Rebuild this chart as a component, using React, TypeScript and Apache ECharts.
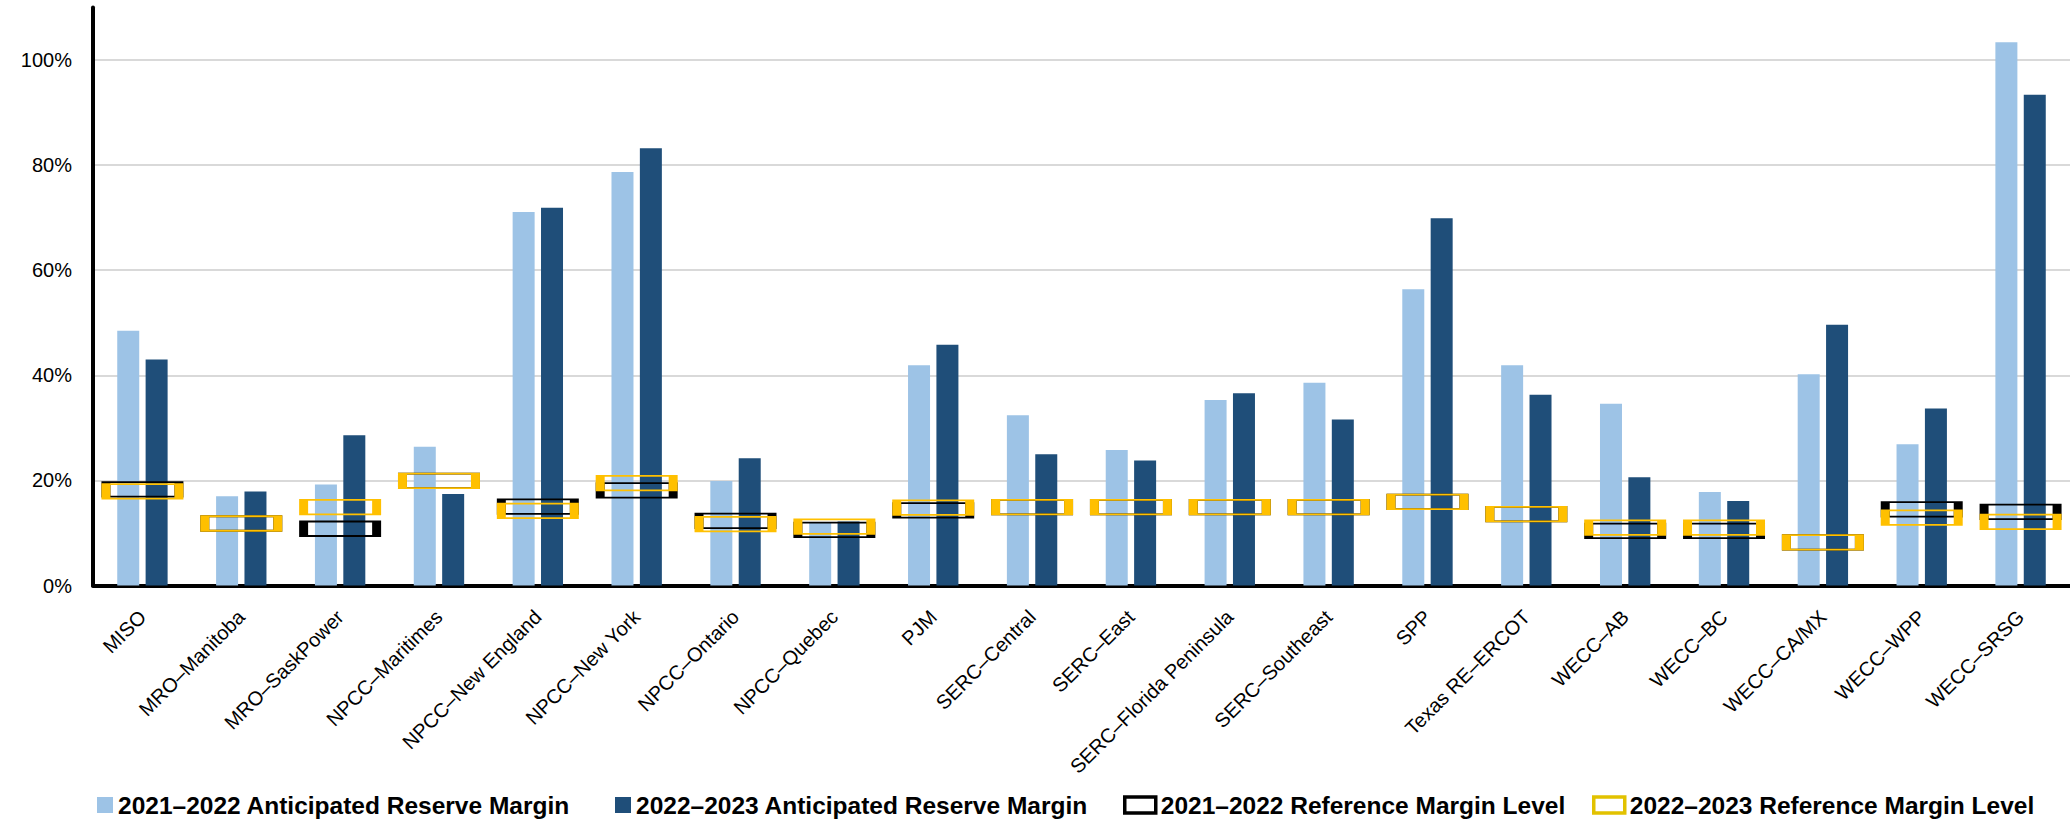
import React, { useEffect, useRef } from "react";
import * as echarts from "echarts";

const categories = [
  "MISO",
  "MRO–Manitoba",
  "MRO–SaskPower",
  "NPCC–Maritimes",
  "NPCC–New England",
  "NPCC–New York",
  "NPCC–Ontario",
  "NPCC–Quebec",
  "PJM",
  "SERC–Central",
  "SERC–East",
  "SERC–Florida Peninsula",
  "SERC–Southeast",
  "SPP",
  "Texas RE–ERCOT",
  "WECC–AB",
  "WECC–BC",
  "WECC–CA/MX",
  "WECC–WPP",
  "WECC–SRSG",
];

const arm2021 = [48.5, 17.0, 19.2, 26.4, 71.1, 78.7, 19.9, 12.0, 41.9, 32.4, 25.8, 35.3, 38.6, 56.4, 41.9, 34.6, 17.8, 40.2, 26.9, 103.4];
const arm2022 = [43.0, 17.9, 28.6, 17.4, 71.9, 83.2, 24.2, 12.2, 45.8, 25.0, 23.8, 36.6, 31.6, 69.9, 36.3, 20.6, 16.1, 49.6, 33.7, 93.4];
const ref2021 = [18.3, 11.8, 10.8, 19.9, 15.0, 18.1, 12.3, 10.6, 14.3, 14.9, 14.9, 14.9, 14.9, 15.9, 13.6, 10.4, 10.4, 8.2, 14.5, 14.0];
const ref2022 = [17.9, 11.8, 14.9, 19.9, 14.2, 19.5, 11.7, 11.2, 14.8, 14.9, 14.9, 14.9, 14.9, 15.9, 13.6, 11.0, 11.0, 8.2, 12.9, 12.1];

const seriesNames = [
  "2021–2022 Anticipated Reserve Margin",
  "2022–2023 Anticipated Reserve Margin",
  "2021–2022 Reference Margin Level",
  "2022–2023 Reference Margin Level",
];

const LIGHT = "#9DC3E6";
const DARK = "#1F4E79";
const BLACK = "#000000";
const YELLOW = "#FFC000";
const FONT = "'Liberation Sans', Arial, sans-serif";

export default function App() {
  const ref = useRef<HTMLDivElement>(null);

  useEffect(() => {
    if (!ref.current) return;
    const chart = echarts.init(ref.current, undefined, { renderer: "svg" });
    const legendText = {
      fontFamily: FONT,
      fontWeight: "bold" as const,
      fontSize: 24.5,
      color: "#000",
      lineHeight: 26,
    };
    const mkLegend = (name: string, left: number, w: number, style: any) => ({
      data: [{ name, icon: "rect", itemStyle: style }],
      left,
      top: 792,
      padding: 0,
      itemWidth: w,
      itemHeight: 16,
      itemGap: 0,
      textStyle: legendText,
      selectedMode: false,
    });
    chart.setOption({
      animation: false,
      backgroundColor: "#ffffff",
      textStyle: { fontFamily: FONT },
      grid: { left: 93, top: 7.5, width: 1985, height: 578, containLabel: false },
      legend: [
        mkLegend(seriesNames[0], 97, 16, { color: LIGHT, borderWidth: 0 }),
        mkLegend(seriesNames[1], 615, 16, { color: DARK, borderWidth: 0 }),
        mkLegend(seriesNames[2], 1123, 31, { color: "#ffffff", borderColor: BLACK, borderWidth: 3.5 }),
        mkLegend(seriesNames[3], 1592, 31, { color: "#ffffff", borderColor: "#E2C200", borderWidth: 3.5 }),
      ],
      xAxis: {
        type: "category",
        data: categories,
        axisLine: { show: true, lineStyle: { color: "#000", width: 4 } },
        axisTick: { show: false },
        axisLabel: {
          rotate: 45,
          interval: 0,
          margin: 28,
          fontSize: 20,
          fontFamily: FONT,
          color: "#000",
        },
        splitLine: { show: false },
      },
      yAxis: {
        type: "value",
        min: 0,
        max: 110,
        interval: 20,
        axisLine: { show: true, lineStyle: { color: "#000", width: 4 } },
        axisTick: { show: false },
        axisLabel: {
          formatter: "{value}%",
          fontSize: 20,
          fontFamily: FONT,
          color: "#000",
          margin: 21,
          showMaxLabel: false,
        },
        splitLine: {
          show: true,
          showMinLine: false,
          showMaxLine: false,
          lineStyle: { color: "#D9D9D9", width: 2 },
        },
      },
      series: [
        {
          name: seriesNames[0],
          type: "bar",
          data: arm2021,
          barWidth: 22,
          barGap: "29%",
          itemStyle: { color: LIGHT },
          z: 2,
        },
        {
          name: seriesNames[1],
          type: "bar",
          data: arm2022,
          barWidth: 22,
          barGap: "29%",
          itemStyle: { color: DARK },
          z: 2,
        },
        {
          name: seriesNames[2],
          type: "scatter",
          data: ref2021,
          symbol: "rect",
          symbolSize: [73, 14.5],
          itemStyle: { color: "rgba(0,0,0,0)", borderColor: BLACK, borderWidth: 4, opacity: 1 },
          z: 3,
          silent: true,
        },
        {
          name: seriesNames[3],
          type: "scatter",
          data: ref2022,
          symbol: "rect",
          symbolSize: [73, 14.5],
          itemStyle: { color: "rgba(0,0,0,0)", borderColor: YELLOW, borderWidth: 4, opacity: 1 },
          z: 4,
          silent: true,
        },
      ],
    });
    return () => chart.dispose();
  }, []);

  return (
    <div
      ref={ref}
      style={{ position: "absolute", left: 0, top: 0, width: 2070, height: 819, background: "#fff" }}
    />
  );
}
